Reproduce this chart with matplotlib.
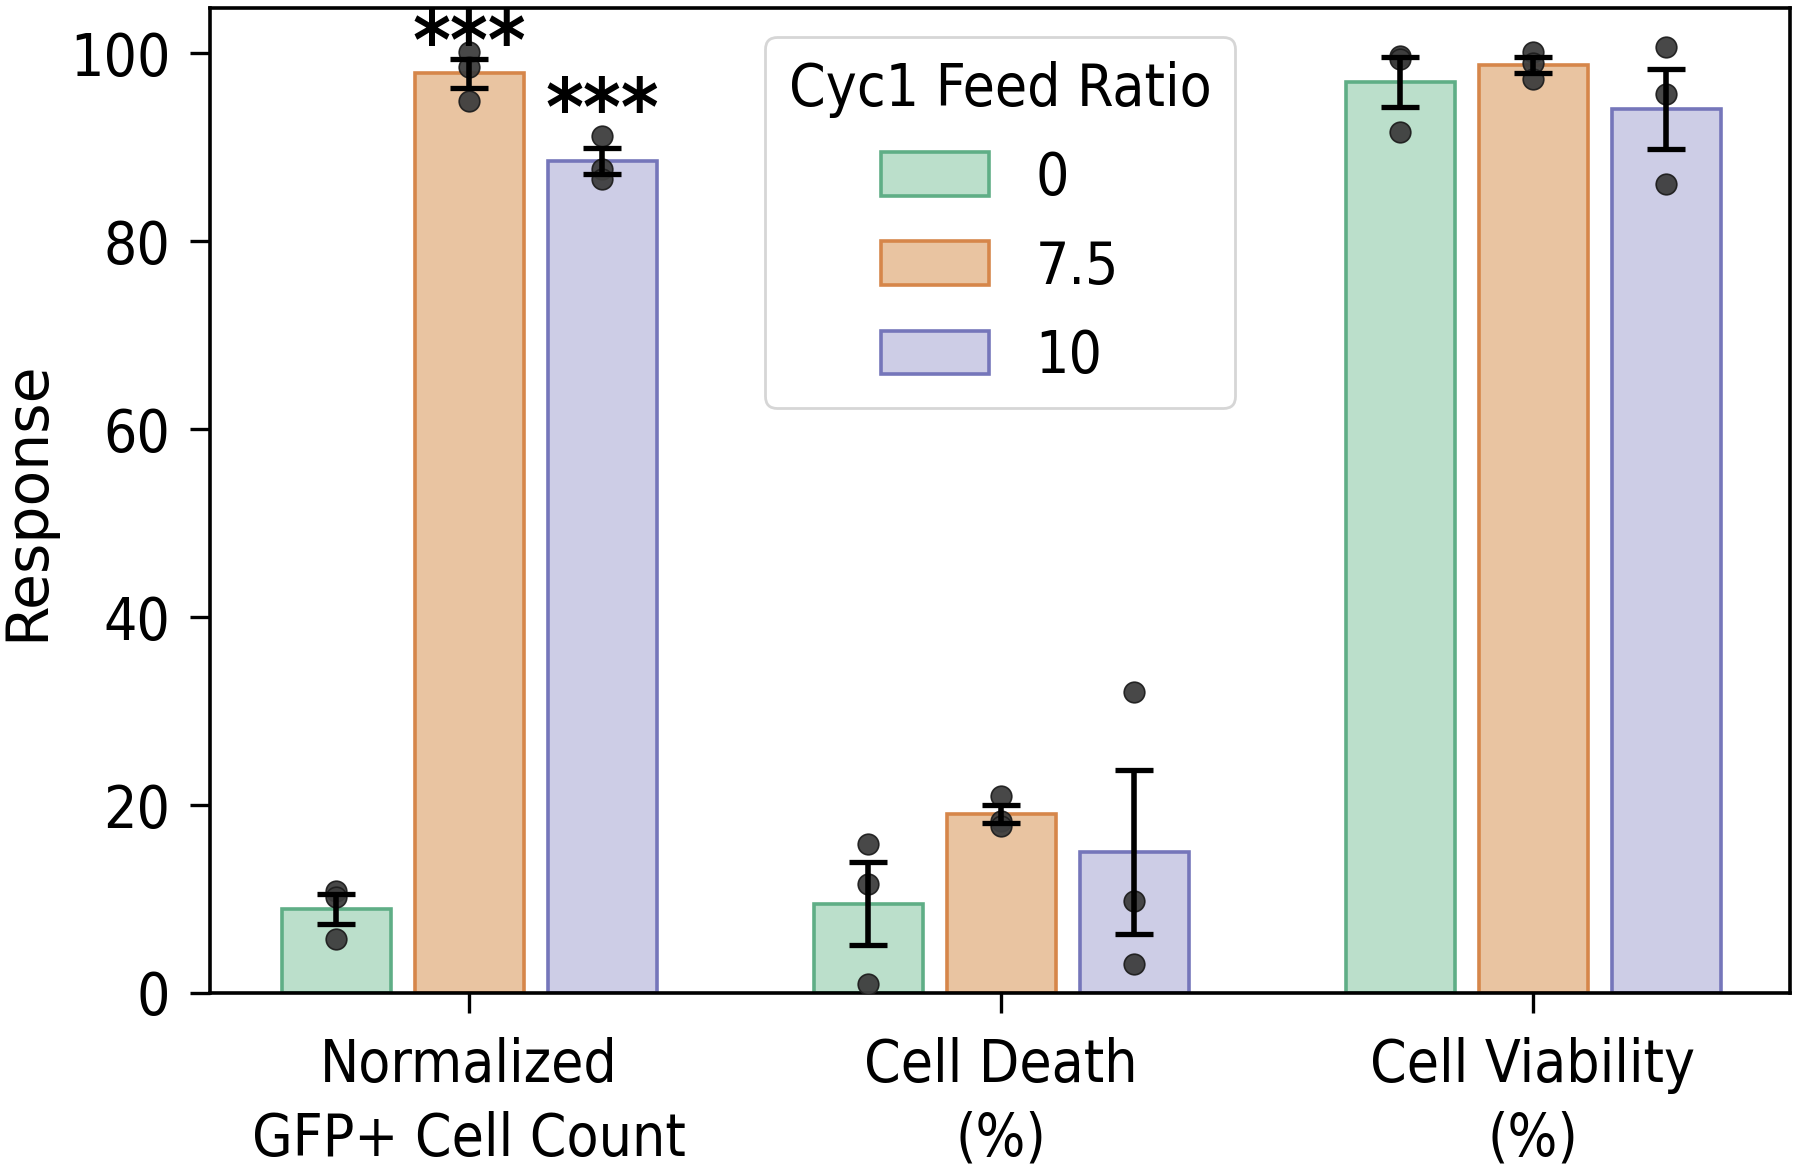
import numpy as np
import matplotlib
matplotlib.use("Agg")
import matplotlib.pyplot as plt

plt.rcParams['font.family'] = ['DejaVu Sans']
plt.rcParams['font.stretch'] = 'condensed'

categories = ["Normalized\nGFP+ Cell Count", "Cell Death\n(%)", "Cell Viability\n(%)"]
ratios = ["0", "7.5", "10"]

# replicate values per ratio, per category
pts_ratio_0 = [[10.9, 10.2, 5.75], [15.9, 11.6, 1.0], [99.7, 99.4, 91.6]]
pts_ratio_75 = [[100.1, 98.5, 94.9], [21.0, 18.35, 17.8], [100.1, 98.9, 97.2]]
pts_ratio_10 = [[91.2, 87.7, 86.6], [32.0, 9.8, 3.1], [100.6, 95.6, 86.1]]
all_pts = [pts_ratio_0, pts_ratio_75, pts_ratio_10]

# significance annotations: (category index, ratio index, label, y)
stars = [(0, 1, "***", 100.8), (0, 2, "***", 93.6)]

fill_colors = ["#bbdfcb", "#e9c4a1", "#cdcde6"]
edge_colors = ["#5fae86", "#d6864a", "#7576ba"]

fig = plt.figure(figsize=(18, 11.65), dpi=100)
ax = fig.add_axes([0.11667, 0.14764, 0.87778, 0.84549])

x = np.arange(len(categories))
stride = 0.25
bw = 0.205
for j, (lab, pts) in enumerate(zip(ratios, all_pts)):
    arr = np.array(pts)
    means = arr.mean(axis=1)
    sems = arr.std(axis=1, ddof=1) / np.sqrt(arr.shape[1])
    xs = x + (j - 1) * stride
    ax.bar(xs, means, width=bw, color=fill_colors[j], edgecolor=edge_colors[j],
           linewidth=2.6, label=lab, zorder=2)
    for k in range(len(categories)):
        ax.scatter(np.full(arr.shape[1], xs[k]), arr[k], s=220, color="#3e3e3e",
                   edgecolors="#1e1e1e", linewidths=1.2, zorder=3, alpha=0.95)
    ax.errorbar(xs, means, yerr=sems, fmt="none", ecolor="black", elinewidth=4.0,
                capsize=13.5, capthick=3.8, zorder=4)

for ci, ri, txt, yv in stars:
    ax.text(x[ci] + (ri - 1) * stride, yv, txt, ha="center", va="center",
            fontsize=58, fontweight="bold", zorder=5)

ax.set_xlim(-0.487, 2.483)
ax.set_ylim(0, 104.8)
ax.set_yticks([0, 20, 40, 60, 80, 100])
ax.set_xticks(x)
ax.set_xticklabels(categories, fontsize=42, linespacing=1.38)
ax.tick_params(axis="both", labelsize=42, length=14.5, width=2.4, pad=14)
ax.tick_params(axis="x", pad=17)
ax.set_ylabel("Response", fontsize=42, fontstretch="normal")
ax.yaxis.set_label_coords(-0.098, 0.5)
for sp in ax.spines.values():
    sp.set_linewidth(2.6)

leg = ax.legend(title="Cyc1 Feed Ratio", loc="upper center", fontsize=42,
                title_fontsize=42, frameon=True, labelspacing=0.55,
                handlelength=1.85, handleheight=0.78)
leg.get_frame().set_linewidth(2.0)

fig.savefig("out.png", dpi=100)
